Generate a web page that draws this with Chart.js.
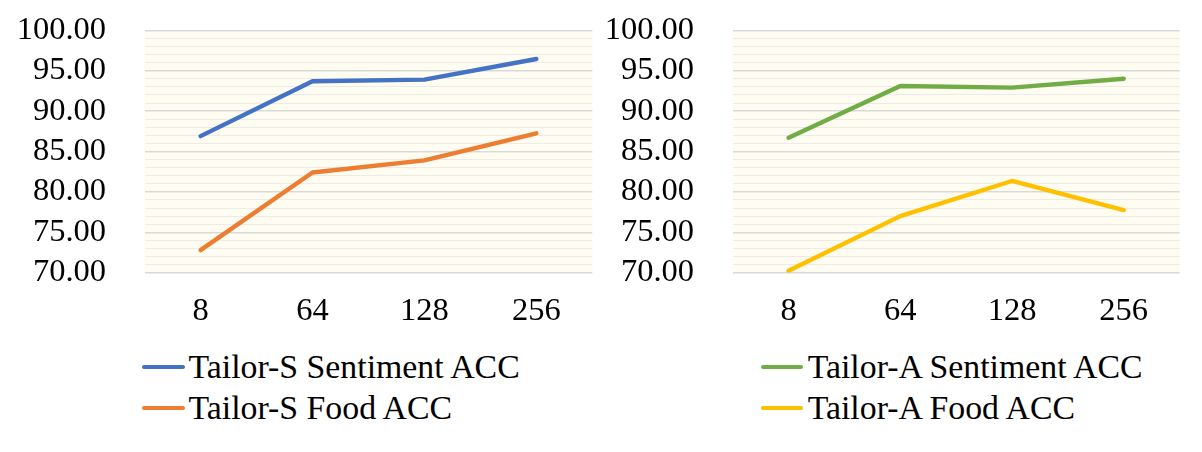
<!DOCTYPE html>
<html>
<head>
<meta charset="utf-8">
<script src="https://cdn.jsdelivr.net/npm/chart.js@4.4.1/dist/chart.umd.min.js"></script>
<style>
  html, body { margin: 0; padding: 0; background: #ffffff; width: 1202px; height: 452px; overflow: hidden; }
  #wrap { position: relative; width: 1202px; height: 452px; }
  canvas { position: absolute; top: 0; }
  .lg-item { position: absolute; white-space: nowrap; font-family: "Liberation Serif", "Times New Roman", serif; font-size: 33.8px; line-height: 40px; height: 40px; color: #000; }
  .lg-swatch { position: absolute; height: 4px; border-radius: 2px; }
</style>
</head>
<body>
<div id="wrap">
  <canvas id="left" width="600" height="340" style="left:0px"></canvas>
  <canvas id="right" width="602" height="340" style="left:600px"></canvas>
</div>
<script>
// ---- data ----
const categories = ['8', '64', '128', '256'];
const tailorSSentiment = [86.9, 93.7, 93.9, 96.45];
const tailorSFood = [72.8, 82.4, 83.9, 87.25];
const tailorASentiment = [86.7, 93.1, 92.9, 94.0];
const tailorAFood = [70.25, 77.0, 81.35, 77.75];
const seriesLabelsS = ['Tailor-S Sentiment ACC', 'Tailor-S Food ACC'];
const seriesLabelsA = ['Tailor-A Sentiment ACC', 'Tailor-A Food ACC'];
const yMin = 70, yMax = 100, yMajorStep = 5, yMinorStep = 1;

// ---- styles ----
const FONT = '"Liberation Serif", "Times New Roman", serif';
const MAJOR = '#D9D9D9';
const MINOR = '#EDEBE6';
const PLOT_BG = '#FFFCF2';
const COLORS = { blue: '#4472C4', orange: '#ED7D31', green: '#70AD47', yellow: '#FFC000' };

const plotBg = {
  id: 'plotBg',
  beforeDraw(chart) {
    const a = chart.chartArea, ctx = chart.ctx;
    ctx.save();
    ctx.fillStyle = PLOT_BG;
    ctx.fillRect(a.left, a.top, a.right - a.left, a.bottom - a.top);
    ctx.restore();
  }
};

function makeOptions(plotLeft, padRight) {
  return {
    responsive: false,
    animation: false,
    events: [],
    layout: { padding: { top: 30.3, left: 0, right: padRight, bottom: 0 } },
    plugins: { legend: { display: false }, tooltip: { enabled: false } },
    elements: {
      line: { borderWidth: 4.4, tension: 0, borderCapStyle: 'round', borderJoinStyle: 'round' },
      point: { radius: 0, hoverRadius: 0 }
    },
    scales: {
      x: {
        type: 'category',
        offset: true,
        grid: { display: false, drawTicks: false },
        border: { display: false },
        ticks: { color: '#000', font: { family: FONT, size: 32.5 }, padding: 19.5, maxRotation: 0, autoSkip: false },
        afterFit(s) { s.height = 340 - 272.7; s.paddingLeft = 0; s.paddingRight = 0; }
      },
      y: {
        min: yMin,
        max: yMax,
        grid: {
          drawTicks: false,
          color: c => (c.tick && c.tick.value % yMajorStep === 0) ? MAJOR : MINOR,
          lineWidth: c => (c.tick && c.tick.value % yMajorStep === 0) ? 1.5 : 1
        },
        border: { display: false },
        ticks: {
          stepSize: yMinorStep,
          autoSkip: false,
          color: '#000',
          font: { family: FONT, size: 32.5 },
          padding: 38.6,
          callback: v => (v % yMajorStep === 0) ? Number(v).toFixed(2) : ''
        },
        afterFit(s) { s.width = plotLeft; s.paddingTop = 0; s.paddingBottom = 0; }
      }
    }
  };
}

function ds(label, data, color) {
  return { label, data, borderColor: color, backgroundColor: color, fill: false };
}

const leftChart = new Chart(document.getElementById('left'), {
  type: 'line',
  data: {
    labels: categories,
    datasets: [
      ds(seriesLabelsS[0], tailorSSentiment, COLORS.blue),
      ds(seriesLabelsS[1], tailorSFood, COLORS.orange)
    ]
  },
  options: makeOptions(144.6, 7.7),
  plugins: [plotBg]
});

const rightChart = new Chart(document.getElementById('right'), {
  type: 'line',
  data: {
    labels: categories,
    datasets: [
      ds(seriesLabelsA[0], tailorASentiment, COLORS.green),
      ds(seriesLabelsA[1], tailorAFood, COLORS.yellow)
    ]
  },
  options: makeOptions(132.7, 22.4),
  plugins: [plotBg]
});

// ---- HTML legends built from the chart datasets ----
function buildLegend(chart, swatchLeft, swatchWidth, textLeft, rowCenters) {
  const wrap = document.getElementById('wrap');
  chart.data.datasets.forEach((d, i) => {
    const cy = rowCenters[i];
    const sw = document.createElement('div');
    sw.className = 'lg-swatch';
    sw.style.left = swatchLeft + 'px';
    sw.style.width = swatchWidth + 'px';
    sw.style.top = (cy - 2) + 'px';
    sw.style.background = d.borderColor;
    wrap.appendChild(sw);
    const tx = document.createElement('div');
    tx.className = 'lg-item';
    tx.style.left = textLeft + 'px';
    tx.style.top = (cy - 20) + 'px';
    tx.textContent = d.label;
    wrap.appendChild(tx);
  });
}
buildLegend(leftChart, 142.3, 42.3, 188.5, [366.7, 408.3]);
buildLegend(rightChart, 760.8, 42.2, 807.7, [366.7, 408.3]);
</script>
</body>
</html>
